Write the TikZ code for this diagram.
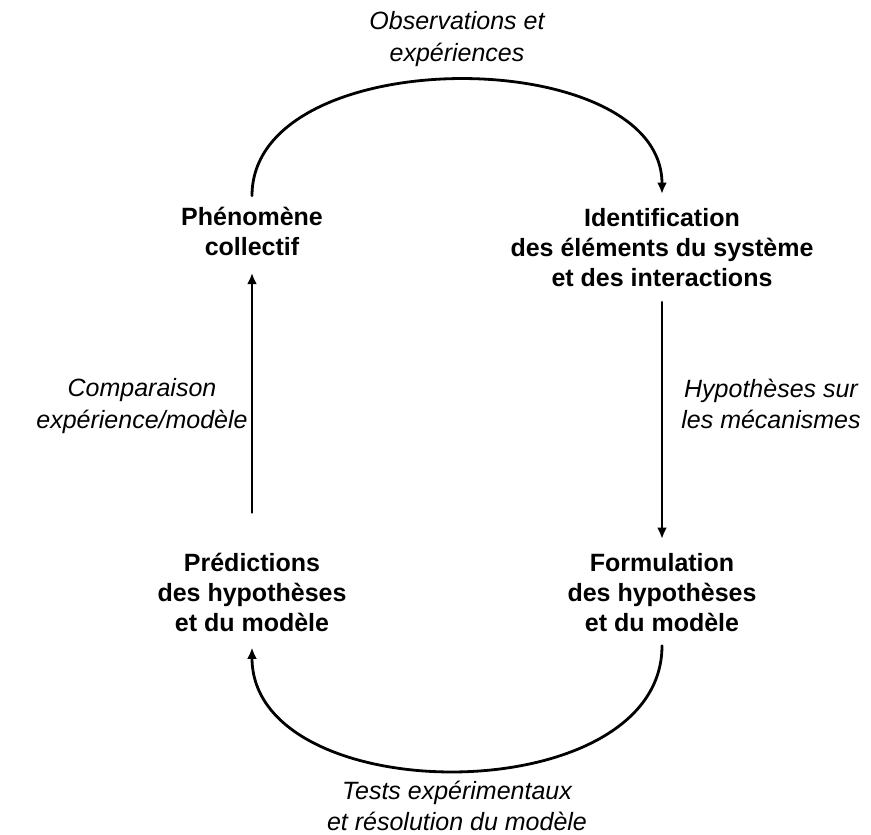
\documentclass[tikz,border=0pt]{standalone}
\usepackage{fontspec}
\setmainfont{Liberation Sans}
\usetikzlibrary{arrows.meta}

\begin{document}
\begin{tikzpicture}[x=0.75pt, y=-0.75pt, line cap=round, line join=round]

\tikzset{
  stage/.style={font=\fontsize{18.75}{22.5}\selectfont\bfseries, align=center, inner sep=0pt},
  note/.style={font=\fontsize{18.75}{23.5}\selectfont\itshape, align=center, inner sep=0pt},
  link/.style={-{Latex[length=8.5pt,width=7.5pt]}, line width=2.1pt}
}

\useasboundingbox (0,0) rectangle (871,835);

\node[stage] (phen) at (252,231) {Phénomène\\collectif};
\node[stage] (ident) at (662,248) {Identification\\des éléments du système\\et des interactions};
\node[stage] (pred) at (252,592) {Prédictions\\des hypothèses\\et du modèle};
\node[stage] (form) at (662,593) {Formulation\\des hypothèses\\et du modèle};

\node[note] (obs) at (457,39) {Observations et\\expériences};
\node[note] (comp) at (142,406) {Comparaison\\expérience/modèle};
\node[note] (hyp) at (771,404) {Hypothèses sur\\les mécanismes};
\node[note] (tests) at (457,806) {Tests expérimentaux\\et résolution du modèle};

\draw[link, shorten <=8pt, shorten >=11pt] (phen.north) .. controls +(0,-166) and +(0,-166) .. (ident.north);
\draw[link, shorten <=11pt, shorten >=11pt] (ident.south) -- (form.north);
\draw[link, shorten <=10pt, shorten >=12pt] (form.south) .. controls +(0,180) and +(0,180) .. (pred.south);
\draw[link, shorten <=30pt, shorten >=13pt] (pred.north) -- (phen.south);

\end{tikzpicture}
\end{document}
